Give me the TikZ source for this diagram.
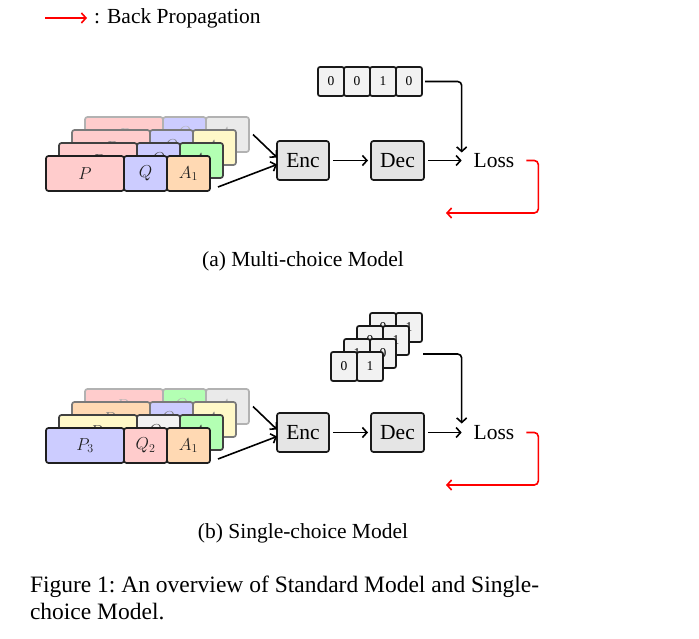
\documentclass[tikz,border=0pt]{standalone}
\usepackage{fontspec}
\setmainfont{Liberation Serif}
\usetikzlibrary{arrows.meta}
\DeclareMathSizes{16}{16}{11.5}{9}
\definecolor{pinkf}{RGB}{255,204,204}
\definecolor{bluef}{RGB}{204,204,255}
\definecolor{greenf}{RGB}{179,255,179}
\definecolor{yellowf}{RGB}{255,248,200}
\definecolor{orangef}{RGB}{255,217,179}
\definecolor{grayf}{RGB}{234,234,234}
\definecolor{cellf}{RGB}{242,242,242}
\definecolor{encf}{RGB}{229,229,229}
\begin{document}
\begin{tikzpicture}[x=1pt,y=-1pt,
  font=\fontsize{21.5}{26}\selectfont,
  every node/.style={inner sep=0pt, outer sep=0pt},
  stackcell/.style={draw, line width=1.7pt, rounded corners=2.5pt, minimum height=35pt,
    anchor=north west, font=\fontsize{16}{19}\selectfont},
  vcell/.style={draw=black!90, fill=cellf, line width=1.7pt, rounded corners=2pt,
    minimum width=26pt, minimum height=29pt, anchor=north west,
    font=\fontsize{13.5}{16}\selectfont},
  block/.style={draw=black!90, fill=encf, line width=1.7pt, rounded corners=2.5pt,
    minimum height=39pt},
  arr/.style={line width=1.6pt, -{Straight Barb[length=4.5pt,width=10pt]}},
  redarr/.style={arr, red, rounded corners=4pt},
  subcap/.style={anchor=base}]
\useasboundingbox (0,0) rectangle (699,639);

% legend
\coordinate (lgA) at (45,18);
\node[anchor=base west] (lg) at (94,24) {: Back Propagation};
\draw[arr, red] (lgA) -- ([xshift=-7pt]lg.west |- lgA);

% ================= (a) =================
\foreach \i/\fp/\fq/\fa/\dc/\lp/\lq/\la in {
  3/pinkf/bluef/grayf/black!30/P/Q/A_4,
  2/pinkf/bluef/yellowf/black!52/P/Q/A_3,
  1/pinkf/bluef/greenf/black!75/P/Q/A_2,
  0/pinkf/bluef/orangef/black!88/P/Q/A_1}{
  \node[stackcell, fill=\fp, draw=\dc, text=\dc, minimum width=78pt] (a-P-\i) at ({46+13*\i},{156-13*\i}) {$\lp$};
  \node[stackcell, fill=\fq, draw=\dc, text=\dc, minimum width=43pt] (a-Q-\i) at (a-P-\i.north east) {$\lq$};
  \node[stackcell, fill=\fa, draw=\dc, text=\dc, minimum width=43pt] (a-A-\i) at (a-Q-\i.north east) {$\la$};
}

\node[block, minimum width=52pt] (aEnc) at (303,160.5) {Enc};
\node[block, minimum width=53pt] (aDec) at (397.5,160.5) {Dec};
\node[inner xsep=12pt, inner ysep=3pt] (aLoss) at (494,160.5) {Loss};

\node[vcell] (av1) at (318,67) {0};
\node[vcell] (av2) at (av1.north east) {0};
\node[vcell] (av3) at (av2.north east) {1};
\node[vcell] (av4) at (av3.north east) {0};

\draw[arr] ([xshift=4pt]a-A-3.east) -- ([yshift=3pt]aEnc.west);
\draw[arr] ([shift={(8pt,4pt)}]a-A-0.south east) -- ([yshift=-4pt]aEnc.west);
\draw[arr, shorten <=4pt, shorten >=3pt] (aEnc) -- (aDec);
\draw[arr, shorten <=4pt] (aDec) -- (aLoss.west);
\draw[arr, rounded corners=4pt, shorten <=3pt] (av4.east) -| ([yshift=8pt]aLoss.west);
\coordinate (aback) at (446,213);
\draw[redarr] (aLoss.east) -- ++(12,0) |- (aback);

\node[subcap] (capa) at (303,266) {(a) Multi-choice Model};

% ================= (b) =================
\foreach \i/\fp/\fq/\fa/\dc/\lp/\lq/\la in {
  3/pinkf/greenf/grayf/black!30/P_1/Q_4/A_4,
  2/orangef/bluef/yellowf/black!52/P_2/Q_3/A_3,
  1/yellowf/cellf/greenf/black!75/P_4/Q_1/A_2,
  0/bluef/pinkf/orangef/black!88/P_3/Q_2/A_1}{
  \node[stackcell, fill=\fp, draw=\dc, text=\dc, minimum width=78pt] (b-P-\i) at ({46+13*\i},{428-13*\i}) {$\lp$};
  \node[stackcell, fill=\fq, draw=\dc, text=\dc, minimum width=43pt] (b-Q-\i) at (b-P-\i.north east) {$\lq$};
  \node[stackcell, fill=\fa, draw=\dc, text=\dc, minimum width=43pt] (b-A-\i) at (b-Q-\i.north east) {$\la$};
}

\node[block, minimum width=52pt] (bEnc) at (303,432.5) {Enc};
\node[block, minimum width=53pt] (bDec) at (397.5,432.5) {Dec};
\node[inner xsep=12pt, inner ysep=3pt] (bLoss) at (494,432.5) {Loss};

\foreach \i/\la/\lb in {3/0/1, 2/0/1, 1/1/0, 0/0/1}{
  \node[vcell] (bv-a-\i) at ({331+13*\i},{352-13*\i}) {\la};
  \node[vcell] (bv-b-\i) at (bv-a-\i.north east) {\lb};
}

\draw[arr] ([xshift=4pt]b-A-3.east) -- ([yshift=3pt]bEnc.west);
\draw[arr] ([shift={(8pt,4pt)}]b-A-0.south east) -- ([yshift=-4pt]bEnc.west);
\draw[arr, shorten <=4pt, shorten >=3pt] (bEnc) -- (bDec);
\draw[arr, shorten <=4pt] (bDec) -- (bLoss.west);
\coordinate (bvout) at (423,354);
\draw[arr, rounded corners=4pt] (bvout) -| ([yshift=9pt]bLoss.west);
\coordinate (bback) at (446,485);
\draw[redarr] (bLoss.east) -- ++(12,0) |- (bback);

\node[subcap] (capb) at (303,538) {(b) Single-choice Model};

% figure caption
\node[anchor=base west, align=left, font=\fontsize{23.5}{27}\selectfont] (figcap) at (30,619)
  {Figure 1:\ An overview of Standard Model and Single-\\choice Model.};
\end{tikzpicture}
\end{document}
